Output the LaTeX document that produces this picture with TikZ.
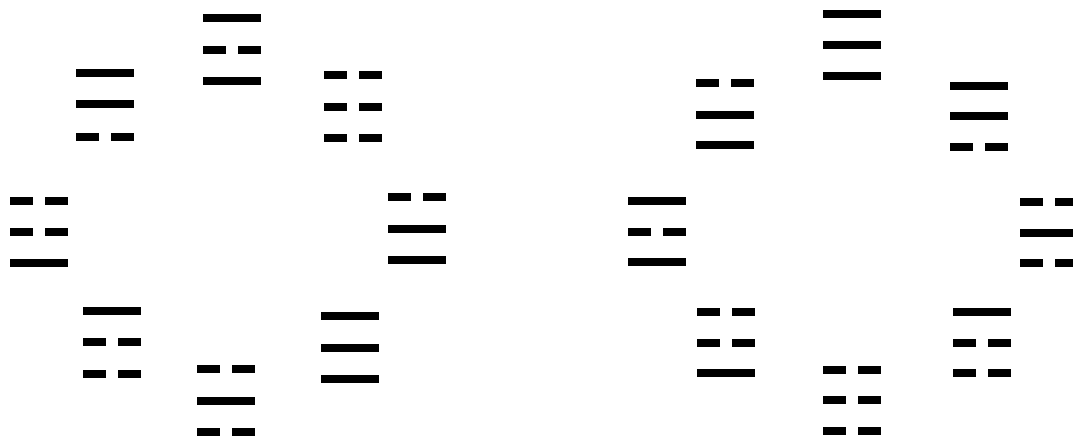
\documentclass[tikz,border=0pt]{standalone}
\newcommand\yaoline[3]{%
  \ifnum#3=1
    \fill[yao] (#1,#2-4) rectangle ++(58,8);
  \else
    \fill[yao] (#1,#2-4) rectangle ++(23,8);
    \fill[yao] (#1+35,#2-4) rectangle ++(23,8);
  \fi}
\newcommand\guasym[7]{%
  \yaoline{#1}{#2}{#5}\yaoline{#1}{#3}{#6}\yaoline{#1}{#4}{#7}}
\begin{document}
\begin{tikzpicture}[x=1pt,y=-1pt,yao/.style={black}]
\useasboundingbox (0,0) rectangle (1073,439);
\fill[white] (0,0) rectangle (1073,439);
% left octagon
\guasym{203}{18}{50}{81}{1}{0}{1}
\guasym{76}{73}{104}{137}{1}{1}{0}
\guasym{324}{75}{107}{138}{0}{0}{0}
\guasym{10}{201}{232}{263}{0}{0}{1}
\guasym{388}{197}{229}{260}{0}{1}{1}
\guasym{83}{311}{342}{374}{1}{0}{0}
\guasym{197}{369}{401}{432}{0}{1}{0}
\guasym{321}{316}{348}{379}{1}{1}{1}
% right octagon
\guasym{823}{14}{45}{76}{1}{1}{1}
\guasym{696}{83}{115}{145}{0}{1}{1}
\guasym{950}{86}{116}{147}{1}{1}{0}
\guasym{628}{201}{232}{262}{1}{0}{1}
\guasym{1020}{202}{233}{263}{0}{1}{0}
\guasym{697}{312}{343}{373}{0}{0}{1}
\guasym{823}{370}{400}{431}{0}{0}{0}
\guasym{953}{312}{343}{373}{1}{0}{0}
\end{tikzpicture}
\end{document}
